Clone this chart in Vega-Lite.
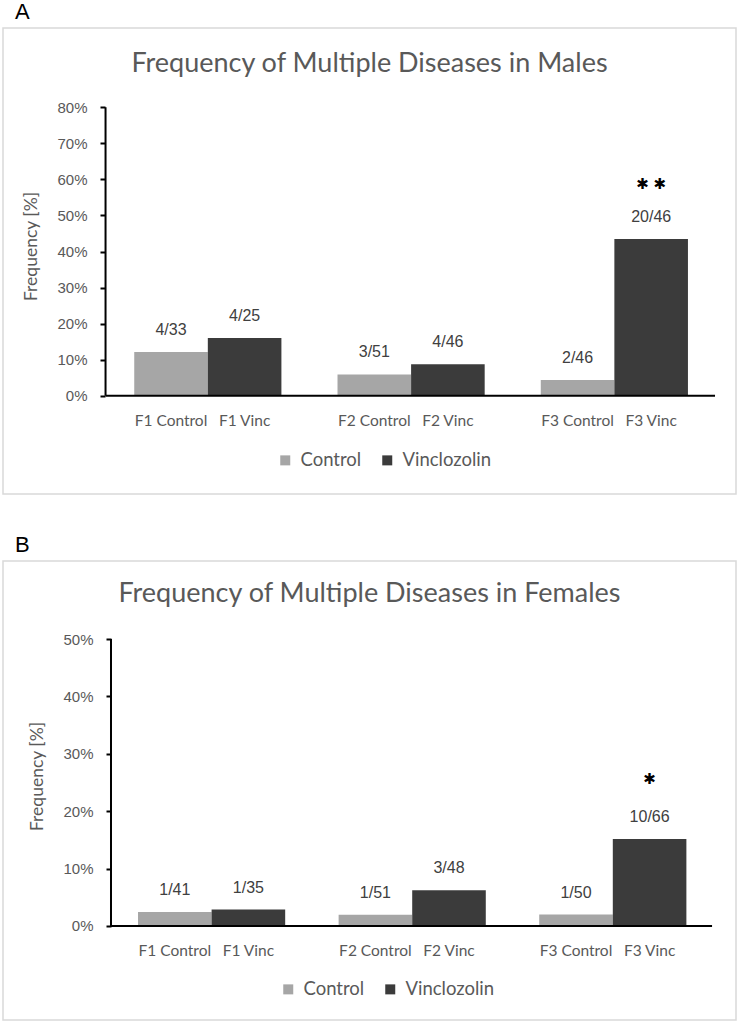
{
  "$schema": "https://vega.github.io/schema/vega-lite/v6.json",
  "background": "white",
  "padding": {"left": 2, "top": 0, "right": 2, "bottom": 4},
  "spacing": 38,
  "config": {
    "view": {"stroke": "#d9d9d9", "strokeWidth": 1.5},
    "title": {"font": "Liberation Sans", "fontSize": 22, "fontWeight": "normal", "color": "black", "anchor": "start", "dx": 12, "offset": 4}
  },
  "resolve": {"scale": {"color": "independent", "x": "independent", "y": "independent"}, "legend": {"color": "independent"}},
  "vconcat": [
    {
      "title": "A",
      "width": 733,
      "height": 466,
      "data": {"values": [
        {"gen": "F1", "group": "Control", "label": "F1 Control", "n": "4/33", "freq": 0.1212, "sig": ""},
        {"gen": "F1", "group": "Vinclozolin", "label": "F1 Vinc", "n": "4/25", "freq": 0.16, "sig": ""},
        {"gen": "F2", "group": "Control", "label": "F2 Control", "n": "3/51", "freq": 0.0588, "sig": ""},
        {"gen": "F2", "group": "Vinclozolin", "label": "F2 Vinc", "n": "4/46", "freq": 0.087, "sig": ""},
        {"gen": "F3", "group": "Control", "label": "F3 Control", "n": "2/46", "freq": 0.0435, "sig": ""},
        {"gen": "F3", "group": "Vinclozolin", "label": "F3 Vinc", "n": "20/46", "freq": 0.4348, "sig": "✱ ✱"}
      ]},
      "layer": [
        {
          "mark": {"type": "bar"},
          "encoding": {
            "x": {"field": "gen", "type": "nominal", "axis": null, "scale": {"paddingInner": 0.276, "paddingOuter": 0.441, "align": 0.732}},
            "xOffset": {"field": "group", "type": "nominal", "scale": {"paddingInner": 0, "paddingOuter": 0}},
            "y": {"field": "freq", "type": "quantitative",
              "scale": {"domain": [-0.2727, 1.02], "nice": false, "zero": false},
              "axis": {"values": [0, 0.1, 0.2, 0.3, 0.4, 0.5, 0.6, 0.7, 0.8], "format": ".0%", "offset": -102, "domain": false, "grid": false,
                "tickColor": "black", "tickWidth": 2, "tickSize": 5,
                "labelFont": "Liberation Sans", "labelFontSize": 15, "labelColor": "#595959", "labelPadding": 13,
                "title": "Frequency [%]", "titleFont": "Lato", "titleFontSize": 17.5, "titleFontWeight": "normal", "titleColor": "#595959", "titlePadding": 16, "titleY": 218}},
            "y2": {"datum": 0},
            "color": {"field": "group", "type": "nominal",
              "scale": {"domain": ["Control", "Vinclozolin"], "range": ["#a6a6a6", "#3b3b3b"]},
              "legend": {"title": null, "orient": "none", "legendX": 273, "legendY": 423, "direction": "horizontal",
                "symbolType": "square", "symbolSize": 100, "symbolStrokeWidth": 0, "labelOffset": 6, "columnPadding": 16,
                "labelFont": "Lato", "labelFontSize": 18.5, "labelColor": "#595959"}}
          }
        },
        {
          "mark": {"type": "text", "dy": -22, "baseline": "middle", "font": "Liberation Sans", "fontSize": 16, "color": "#404040"},
          "encoding": {
            "x": {"field": "gen", "type": "nominal"},
            "xOffset": {"field": "group", "type": "nominal"},
            "y": {"field": "freq", "type": "quantitative"},
            "text": {"field": "n"}
          }
        },
        {
          "mark": {"type": "text", "dy": -55, "baseline": "middle", "font": "DejaVu Sans", "fontSize": 15, "color": "black"},
          "encoding": {
            "x": {"field": "gen", "type": "nominal"},
            "xOffset": {"field": "group", "type": "nominal"},
            "y": {"field": "freq", "type": "quantitative"},
            "text": {"field": "sig"}
          }
        },
        {
          "mark": {"type": "text", "dy": 25, "baseline": "middle", "font": "Lato", "fontSize": 15.5, "color": "#595959"},
          "encoding": {
            "x": {"field": "gen", "type": "nominal"},
            "xOffset": {"field": "group", "type": "nominal"},
            "y": {"datum": 0},
            "text": {"field": "label"}
          }
        },
        {
          "data": {"values": [{"t": "Frequency of Multiple Diseases in Males"}]},
          "mark": {"type": "text", "baseline": "middle", "font": "Lato", "fontSize": 27, "color": "#595959"},
          "encoding": {"y": {"datum": 0.92}, "text": {"field": "t"}}
        },
        {
          "data": {"values": [{}]},
          "mark": {"type": "rule", "color": "black", "strokeWidth": 2},
          "encoding": {"x": {"datum": "F1", "bandPosition": -0.195}, "y": {"datum": 0}, "y2": {"datum": 0.8}}
        },
        {
          "data": {"values": [{}]},
          "mark": {"type": "rule", "color": "black", "strokeWidth": 2},
          "encoding": {"x": {"datum": "F1", "bandPosition": -0.195}, "x2": {"datum": "F3", "bandPosition": 1.184}, "y": {"datum": 0}}
        }
      ]
    },
    {
      "title": "B",
      "width": 733,
      "height": 459,
      "data": {"values": [
        {"gen": "F1", "group": "Control", "label": "F1 Control", "n": "1/41", "freq": 0.0244, "sig": ""},
        {"gen": "F1", "group": "Vinclozolin", "label": "F1 Vinc", "n": "1/35", "freq": 0.0286, "sig": ""},
        {"gen": "F2", "group": "Control", "label": "F2 Control", "n": "1/51", "freq": 0.0196, "sig": ""},
        {"gen": "F2", "group": "Vinclozolin", "label": "F2 Vinc", "n": "3/48", "freq": 0.0625, "sig": ""},
        {"gen": "F3", "group": "Control", "label": "F3 Control", "n": "1/50", "freq": 0.02, "sig": ""},
        {"gen": "F3", "group": "Vinclozolin", "label": "F3 Vinc", "n": "10/66", "freq": 0.1515, "sig": "✱"}
      ]},
      "layer": [
        {
          "mark": {"type": "bar"},
          "encoding": {
            "x": {"field": "gen", "type": "nominal", "axis": null, "scale": {"paddingInner": 0.268, "paddingOuter": 0.461, "align": 0.73}},
            "xOffset": {"field": "group", "type": "nominal", "scale": {"paddingInner": 0, "paddingOuter": 0}},
            "y": {"field": "freq", "type": "quantitative",
              "scale": {"domain": [-0.1638, 0.636], "nice": false, "zero": false},
              "axis": {"values": [0, 0.1, 0.2, 0.3, 0.4, 0.5], "format": ".0%", "offset": -108, "domain": false, "grid": false,
                "tickColor": "black", "tickWidth": 2, "tickSize": 5,
                "labelFont": "Liberation Sans", "labelFontSize": 15, "labelColor": "#595959", "labelPadding": 13,
                "title": "Frequency [%]", "titleFont": "Lato", "titleFontSize": 17.5, "titleFontWeight": "normal", "titleColor": "#595959", "titlePadding": 16, "titleY": 215}},
            "y2": {"datum": 0},
            "color": {"field": "group", "type": "nominal",
              "scale": {"domain": ["Control", "Vinclozolin"], "range": ["#a6a6a6", "#3b3b3b"]},
              "legend": {"title": null, "orient": "none", "legendX": 276, "legendY": 419, "direction": "horizontal",
                "symbolType": "square", "symbolSize": 100, "symbolStrokeWidth": 0, "labelOffset": 6, "columnPadding": 16,
                "labelFont": "Lato", "labelFontSize": 18.5, "labelColor": "#595959"}}
          }
        },
        {
          "mark": {"type": "text", "dy": -22, "baseline": "middle", "font": "Liberation Sans", "fontSize": 16, "color": "#404040"},
          "encoding": {
            "x": {"field": "gen", "type": "nominal"},
            "xOffset": {"field": "group", "type": "nominal"},
            "y": {"field": "freq", "type": "quantitative"},
            "text": {"field": "n"}
          }
        },
        {
          "mark": {"type": "text", "dy": -60, "baseline": "middle", "font": "DejaVu Sans", "fontSize": 15, "color": "black"},
          "encoding": {
            "x": {"field": "gen", "type": "nominal"},
            "xOffset": {"field": "group", "type": "nominal"},
            "y": {"field": "freq", "type": "quantitative"},
            "text": {"field": "sig"}
          }
        },
        {
          "mark": {"type": "text", "dy": 25, "baseline": "middle", "font": "Lato", "fontSize": 15.5, "color": "#595959"},
          "encoding": {
            "x": {"field": "gen", "type": "nominal"},
            "xOffset": {"field": "group", "type": "nominal"},
            "y": {"datum": 0},
            "text": {"field": "label"}
          }
        },
        {
          "data": {"values": [{"t": "Frequency of Multiple Diseases in Females"}]},
          "mark": {"type": "text", "baseline": "middle", "font": "Lato", "fontSize": 27, "color": "#595959"},
          "encoding": {"y": {"datum": 0.579}, "text": {"field": "t"}}
        },
        {
          "data": {"values": [{}]},
          "mark": {"type": "rule", "color": "black", "strokeWidth": 2},
          "encoding": {"x": {"datum": "F1", "bandPosition": -0.184}, "y": {"datum": 0}, "y2": {"datum": 0.5}}
        },
        {
          "data": {"values": [{}]},
          "mark": {"type": "rule", "color": "black", "strokeWidth": 2},
          "encoding": {"x": {"datum": "F1", "bandPosition": -0.184}, "x2": {"datum": "F3", "bandPosition": 1.177}, "y": {"datum": 0}}
        }
      ]
    }
  ]
}
